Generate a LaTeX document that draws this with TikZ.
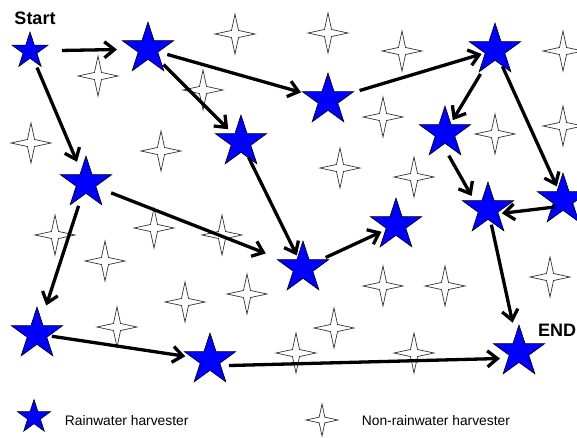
\documentclass[tikz,border=0pt]{standalone}
\usepackage{fontspec}
\setsansfont{Liberation Sans}
\usetikzlibrary{shapes.geometric}
\usetikzlibrary{positioning}
\usetikzlibrary{arrows.meta}

\begin{document}
\begin{tikzpicture}[x=1pt, y=-1pt, ->, >={Straight Barb[length=10pt, width=16pt]}, font=\sffamily]
    \tikzstyle{rwh}=[star, star points=5, star point ratio=2.618, fill=blue, draw=black, line width=0.6pt, minimum size=54pt, inner sep=0pt]
    \tikzstyle{nonrwh}=[star, star points=4, star point ratio=4, fill=white, draw=black!80, line width=0.7pt, minimum size=40pt, inner sep=0pt]
    \tikzstyle{link}=[line width=3.3pt, draw=black]
    \tikzstyle{lbl}=[inner sep=0pt, font=\sffamily\bfseries\fontsize{18}{20}\selectfont]
    \tikzstyle{lgd}=[inner sep=0pt, font=\sffamily\fontsize{13.8}{16}\selectfont]

    \useasboundingbox (0,0) rectangle (577,437);

    % non-rainwater harvesters
    \node[nonrwh] (w1) at (235,34) {};
    \node[nonrwh] (w2) at (98,76) {};
    \node[nonrwh] (w3) at (203,90) {};
    \node[nonrwh] (w4) at (31,143) {};
    \node[nonrwh] (w5) at (161,151) {};
    \node[nonrwh] (w6) at (328,33) {};
    \node[nonrwh] (w7) at (402,51) {};
    \node[nonrwh] (w8) at (563,51) {};
    \node[nonrwh] (w9) at (383,117) {};
    \node[nonrwh] (w10) at (495,134) {};
    \node[nonrwh] (w11) at (563,126) {};
    \node[nonrwh] (w12) at (340,168) {};
    \node[nonrwh] (w13) at (414,177) {};
    \node[nonrwh] (w14) at (55,235) {};
    \node[nonrwh] (w15) at (154,228) {};
    \node[nonrwh] (w16) at (222,235) {};
    \node[nonrwh] (w17) at (105,261) {};
    \node[nonrwh] (w18) at (185,302) {};
    \node[nonrwh] (w19) at (247,294) {};
    \node[nonrwh] (w20) at (117,327) {};
    \node[nonrwh] (w21) at (296,353) {};
    \node[nonrwh] (w22) at (383,286) {};
    \node[nonrwh] (w23) at (445,286) {};
    \node[nonrwh] (w24) at (550,277) {};
    \node[nonrwh] (w25) at (334,328) {};
    \node[nonrwh] (w26) at (414,353) {};

    % rainwater harvesters
    \node[rwh, minimum size=38pt] (s1) at (30,51) {};
    \node[rwh] (s2) at (148,49) {};
    \node[rwh] (s3) at (328,100) {};
    \node[rwh] (s4) at (495,50) {};
    \node[rwh] (s5) at (241,142) {};
    \node[rwh] (s6) at (445,133) {};
    \node[rwh] (s7) at (86,183) {};
    \node[rwh] (s8) at (563,200) {};
    \node[rwh] (s9) at (488,209) {};
    \node[rwh] (s10) at (396,225) {};
    \node[rwh] (s11) at (303,268) {};
    \node[rwh] (s12) at (37,334) {};
    \node[rwh] (s13) at (210,360) {};
    \node[rwh] (s14) at (519,352) {};

    \node[lbl, above=6pt of s1, xshift=5pt] (start) {Start};
    \node[lbl, anchor=base west] (end) at (538,336) {END};

    % route
    \path (s1.center) edge[link, shorten <=32pt, shorten >=31pt] (s2.center);
    \path (s1.center) edge[link, shorten <=18pt, shorten >=23pt] (s7.center);
    \path (s2.center) edge[link, shorten <=20pt, shorten >=28pt] (s3.center);
    \path (s2.center) edge[link, shorten <=22pt, shorten >=18pt] (s5.center);
    \path (s5.center) edge[link, shorten <=17pt, shorten >=14pt] (s11.center);
    \path (s7.center) edge[link, shorten <=27pt, shorten >=40pt] (s11.center);
    \path (s3.center) edge[link, shorten <=33pt, shorten >=14pt] (s4.center);
    \path (s4.center) edge[link, shorten <=28pt, shorten >=15pt] (s6.center);
    \path (s4.center) edge[link, shorten <=18pt, shorten >=15pt] (s8.center);
    \path ([xshift=-9pt]s6.center) edge[link, shorten <=26pt, shorten >=15pt] ([xshift=-9pt]s9.center);
    \path ([yshift=-6pt]s8.center) edge[link, shorten <=8pt, shorten >=14pt] ([yshift=-6pt]s9.center);
    \path (s9.center) edge[link, shorten <=16pt, shorten >=30pt] (s14.center);
    \path (s11.center) edge[link, shorten <=25pt, shorten >=16pt] (s10.center);
    \path (s7.center) edge[link, shorten <=24pt, shorten >=30pt] (s12.center);
    \path (s12.center) edge[link, shorten <=15pt, shorten >=25pt] (s13.center);
    \path ([yshift=-6pt]s13.center) edge[link, shorten <=19pt, shorten >=19pt] ([yshift=-6pt]s14.center);

    % legend
    \node[rwh, minimum size=35pt] (key1) at (34,417) {};
    \node[lgd, right=21pt of key1, yshift=-4pt] (keytxt1) {Rainwater harvester};
    \node[nonrwh, minimum size=32pt] (key2) at (322,420) {};
    \node[lgd, right=22pt of key2, yshift=-1pt] (keytxt2) {Non-rainwater harvester};
\end{tikzpicture}
\end{document}
